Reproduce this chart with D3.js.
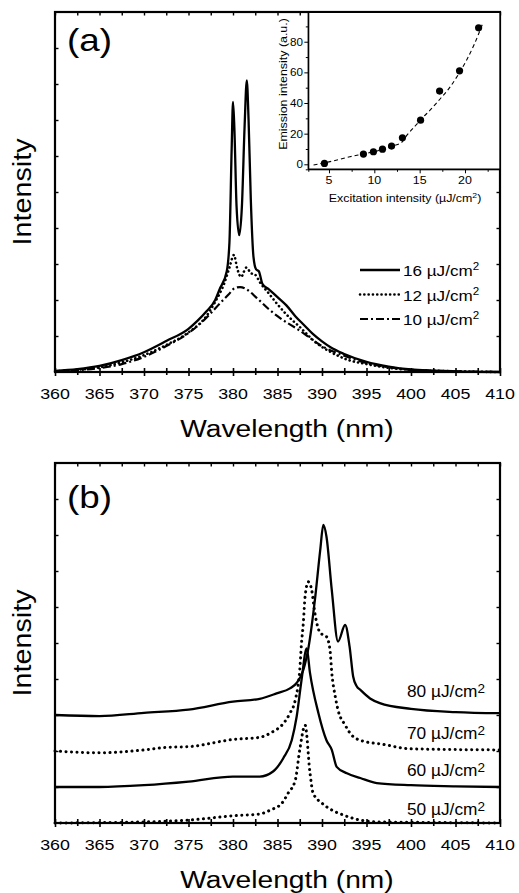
<!DOCTYPE html>
<html lang="en">
<head>
<meta charset="UTF-8" />
<title>Spectra</title>
<style>
  body { margin: 0; background: #fff; }
  svg text { font-family: "Liberation Sans", Arial, sans-serif; fill: #000; }
</style>
</head>
<body>
<div class="chart"></div>
<script src="https://d3js.org/d3.v7.min.js"></script>
<script>
// ---- panel (a): spectra at low excitation ----
const aWave16 = [360, 362.5, 365, 367.5, 370, 372.5, 375, 376, 377, 378, 378.5, 379.3, 379.6, 379.85, 380.0, 380.15, 380.4, 380.7, 381.0, 381.3, 381.55, 381.75, 382.0, 382.3, 382.6, 382.9, 383.3, 384, 385, 386, 387, 388, 389, 390, 391, 392.5, 395, 397.5, 400, 402.5, 405, 410];
const aInt16  = [0.03, 0.08, 0.17, 0.33, 0.55, 0.86, 1.2, 1.42, 1.68, 2.0, 2.3, 2.8, 3.6, 6.2, 7.5, 6.8, 4.6, 3.8, 4.6, 6.8, 8.1, 7.0, 4.8, 3.2, 2.85, 2.8, 2.45, 2.3, 2.08, 1.85, 1.55, 1.3, 1.05, 0.85, 0.68, 0.5, 0.28, 0.15, 0.07, 0.04, 0.02, 0.0];

const aWave12 = [360, 362.5, 365, 367.5, 370, 372.5, 375, 377, 378, 379, 379.6, 380.1, 380.5, 380.9, 381.5, 382, 382.5, 383, 384, 385, 386, 387.5, 389.4, 391, 393, 395, 397, 400, 405, 410];
const aInt12  = [0.02, 0.06, 0.13, 0.27, 0.47, 0.75, 1.1, 1.55, 1.95, 2.45, 2.9, 3.25, 2.85, 2.64, 2.9, 2.75, 2.7, 2.5, 2.19, 1.88, 1.6, 1.25, 0.8, 0.55, 0.33, 0.22, 0.13, 0.06, 0.02, 0.0];

const aWave10 = [360, 362.5, 365, 367.5, 370, 372.5, 375, 376.3, 377.5, 378.5, 379.5, 380.2, 380.8, 381.5, 382.7, 384, 385, 387.5, 390, 392.5, 395, 397.5, 400, 405, 410];
const aInt10  = [0.02, 0.05, 0.11, 0.22, 0.42, 0.72, 1.08, 1.34, 1.63, 1.9, 2.15, 2.33, 2.36, 2.3, 2.05, 1.75, 1.55, 1.15, 0.72, 0.45, 0.25, 0.13, 0.06, 0.02, 0.0];

const aLabels = ["16", "12", "10"];

// ---- inset: emission vs excitation ----
const insetExc  = [4.5, 8.8, 9.9, 10.9, 11.9, 13.1, 15.1, 17.2, 19.4, 21.5];
const insetEmis = [0.6, 6.7, 8.2, 9.9, 11.9, 17.3, 28.8, 47.8, 61.0, 89.1];
const fitExc  = [3.3, 5, 7.3, 9, 10.5, 12.1, 13.0, 13.6, 14.5, 15.5, 16.1, 17, 18.3, 19.2, 20.15, 21, 22];
const fitEmis = [-0.4, 1.6, 4.9, 7.0, 9.0, 12.1, 14.2, 19.0, 25.0, 31.5, 35.0, 41.0, 50.0, 58.0, 67.7, 78.0, 92.6];

// ---- panel (b): spectra at high excitation (offset by 1 unit each) ----
const bWave50 = [360, 365, 370, 375, 380, 383.0, 384.2, 385.5, 386.2, 387.0, 387.5, 388.1, 388.65, 389.0, 390.0, 391.1, 392.4, 394.3, 396.2, 400, 410];
const bInt50  = [0.0, 0.01, 0.03, 0.08, 0.2, 0.25, 0.36, 0.55, 0.83, 1.19, 2.03, 2.72, 1.39, 0.83, 0.55, 0.36, 0.22, 0.08, 0.03, 0.02, 0.0];

const bWave60 = [360, 365, 370, 375, 380, 383.0, 384.5, 385.65, 386.6, 387.15, 387.7, 388.28, 388.65, 389.6, 390.5, 391.1, 391.65, 392.8, 394.3, 396.15, 400, 405, 410];
const bInt60  = [1.0, 1.0, 1.05, 1.15, 1.29, 1.29, 1.43, 1.8, 2.3, 2.95, 3.97, 4.85, 4.17, 3.05, 2.3, 2.03, 1.56, 1.38, 1.25, 1.11, 1.05, 1.02, 1.0];

const bWave70 = [360, 365, 370, 372.5, 375, 380, 383, 384.5, 385.5, 386.4, 387.0, 387.5, 387.7, 387.9, 388.1, 388.46, 388.84, 389.2, 389.8, 390.5, 390.9, 391.1, 391.5, 391.8, 392.6, 393.5, 395.0, 396.5, 400, 410];
const bInt70  = [2.0, 1.95, 2.03, 2.1, 2.12, 2.32, 2.38, 2.54, 2.72, 3.05, 3.42, 4.25, 5.0, 5.55, 6.29, 6.7, 6.47, 5.83, 5.28, 5.18, 4.8, 4.17, 3.5, 3.14, 2.72, 2.4, 2.25, 2.2, 2.06, 2.03];

const bWave80 = [360, 365, 370, 375, 380, 383, 384.9, 386.4, 387.15, 387.9, 388.5, 389.2, 389.8, 390.15, 390.5, 391.1, 391.8, 392.6, 393.1, 393.5, 393.9, 394.3, 395.4, 396.5, 400, 405, 410];
const bInt80  = [3.0, 2.97, 3.06, 3.15, 3.37, 3.45, 3.6, 3.74, 3.89, 4.25, 4.9, 6.19, 7.58, 8.28, 7.96, 6.47, 5.04, 5.5, 4.9, 4.07, 3.8, 3.7, 3.46, 3.33, 3.17, 3.08, 3.05];

const bLabels = ["80", "70", "60", "50"];

const W = 519, H = 893;
const STRETCH = 1.15;   // the source lettering is wider than Arial

const svg = d3.select('.chart').append('svg')
  .attr('width', W).attr('height', H);

// text helper: horizontally stretched lettering
function label(g, x, y, str, size, anchor, rot, stretch) {
  const t = g.append('text')
    .attr('transform', `translate(${x},${y})${rot ? ' rotate(-90)' : ''} scale(${stretch || STRETCH},1)`)
    .attr('font-size', size)
    .attr('text-anchor', anchor || 'start')
    .text(str);
  return t;
}
function unitLabel(g, x, y, num, size) {
  const t = g.append('text')
    .attr('transform', `translate(${x},${y}) scale(${STRETCH * 0.96},1)`)
    .attr('font-size', size);
  t.append('tspan').text(num + ' \u00b5J/cm');
  t.append('tspan').attr('dy', -size * 0.38).attr('font-size', size * 0.68).text('2');
}

const dotted = { dash: '0.1 4.2', cap: 'round', width: 2.6 };
const solid  = { dash: null, cap: 'butt', width: 2.3 };
const dashDot = { dash: '8 3 2 3', cap: 'butt', width: 2.2 };

function framePanel(top, bottom) {
  const x = d3.scaleLinear().domain([360, 410]).range([55, 500]);
  const y = d3.scaleLinear().domain([0, 10]).range([bottom, top]);
  const g = svg.append('g');
  const major = d3.range(360, 411, 5);
  const minor = d3.range(362.5, 410, 5);
  const yt = d3.range(1, 10, 1);

  // bottom axis: ticks crossing the line
  const gb = g.append('g').attr('transform', `translate(0,${bottom})`);
  gb.call(d3.axisBottom(x).tickValues(major).tickSize(4).tickFormat(''));
  gb.append('g').call(d3.axisBottom(x).tickValues(minor).tickSize(3).tickFormat(''));
  gb.append('g').call(d3.axisBottom(x).tickValues(major.concat(minor)).tickSize(-4).tickFormat(''));
  gb.selectAll('.domain').remove();
  gb.selectAll('line').attr('stroke-width', 1.6);
  major.forEach(v => label(g, x(v), bottom + 27, String(v), 15.5, 'middle'));

  // top axis ticks inward
  const gt = g.append('g').attr('transform', `translate(0,${top})`);
  gt.call(d3.axisTop(x).tickValues(major.concat(minor)).tickSize(-3.5).tickFormat(''));
  gt.select('.domain').remove();
  gt.selectAll('line').attr('stroke-width', 1.4);

  // left / right ticks inward
  const gl = g.append('g').attr('transform', 'translate(55,0)');
  gl.call(d3.axisLeft(y).tickValues(yt).tickSize(-3.5).tickFormat(''));
  gl.select('.domain').remove();
  gl.selectAll('line').attr('stroke-width', 1.4);
  const gr = g.append('g').attr('transform', 'translate(500,0)');
  gr.call(d3.axisRight(y).tickValues(yt).tickSize(-3.5).tickFormat(''));
  gr.select('.domain').remove();
  gr.selectAll('line').attr('stroke-width', 1.4);

  g.append('rect')
    .attr('x', 55).attr('y', top).attr('width', 445).attr('height', bottom - top)
    .attr('fill', 'none').attr('stroke', '#000').attr('stroke-width', 2.2);

  label(g, 287, bottom + 65, 'Wavelength (nm)', 24.5, 'middle');
  label(g, 31, (top + bottom) / 2, 'Intensity', 25, 'middle', true);
  return { x, y, g };
}

function drawCurve(p, wave, vals, style) {
  const line = d3.line()
    .x((d, i) => p.x(wave[i]))
    .y(d => p.y(d))
    .curve(d3.curveMonotoneX);
  p.g.append('path')
    .datum(vals)
    .attr('d', line)
    .attr('fill', 'none')
    .attr('stroke', '#000')
    .attr('stroke-width', style.width)
    .attr('stroke-linecap', style.cap)
    .attr('stroke-linejoin', 'round')
    .attr('stroke-dasharray', style.dash);
}

// ---- panel (a) ----
const pa = framePanel(12, 372);
drawCurve(pa, aWave10, aInt10, dashDot);
drawCurve(pa, aWave12, aInt12, dotted);
drawCurve(pa, aWave16, aInt16, solid);
label(pa.g, 67, 51, '(a)', 32, 'start');

// legend (a)
const aStyles = [solid, dotted, dashDot];
aLabels.forEach((lab, i) => {
  const ly = 270 + i * 24.5;
  const st = aStyles[i];
  pa.g.append('line')
    .attr('x1', 360).attr('x2', 400).attr('y1', ly).attr('y2', ly)
    .attr('stroke', '#000').attr('stroke-width', st.width)
    .attr('stroke-linecap', st.cap).attr('stroke-dasharray', st.dash);
  unitLabel(pa.g, 403, ly + 6, lab, 15.5);
});

// ---- inset ----
const ix = d3.scaleLinear().domain([2.72, 23.86]).range([308.3, 500]);
const iy = d3.scaleLinear().domain([-3.26, 99.4]).range([169.3, 12]);
const gi = svg.append('g');
gi.append('rect').attr('x', 308.3).attr('y', 13).attr('width', 191).attr('height', 156)
  .attr('fill', '#fff');

const gix = gi.append('g').attr('transform', 'translate(0,169.3)');
gix.call(d3.axisBottom(ix).tickValues([5, 10, 15, 20]).tickSize(4).tickFormat(''));
gix.append('g').call(d3.axisBottom(ix).tickValues([7.5, 12.5, 17.5, 22.5]).tickSize(2.5).tickFormat(''));
gix.select('.domain').attr('stroke-width', 1.4).attr('d', 'M308.3,0H500');
[5, 10, 15, 20].forEach(v => label(gi, ix(v), 183.5, String(v), 10.8, 'middle'));

const giy = gi.append('g').attr('transform', 'translate(308.3,0)');
giy.call(d3.axisLeft(iy).tickValues([0, 20, 40, 60, 80]).tickSize(4).tickFormat(''));
giy.append('g').call(d3.axisLeft(iy).tickValues([10, 30, 50, 70, 90]).tickSize(2.5).tickFormat(''));
giy.select('.domain').attr('stroke-width', 1.4).attr('d', 'M0,169.3V12');
[0, 20, 40, 60, 80].forEach(v => label(gi, 303, iy(v) + 4, String(v), 10.8, 'end', false, 1.08));

const xl = label(gi, 405, 202, 'Excitation intensity (\u00b5J/cm', 10.8, 'middle');
xl.append('tspan').attr('dy', -4).attr('font-size', 7.5).text('2');
xl.append('tspan').attr('dy', 4).text(')');
label(gi, 286.5, 84, 'Emission intensity (a.u.)', 10.8, 'middle', true);

gi.append('path')
  .datum(fitEmis)
  .attr('d', d3.line().x((d, i) => ix(fitExc[i])).y(d => iy(d)).curve(d3.curveMonotoneX))
  .attr('fill', 'none').attr('stroke', '#000').attr('stroke-width', 1.1)
  .attr('stroke-dasharray', '4 3');
gi.selectAll('circle')
  .data(insetEmis)
  .join('circle')
  .attr('cx', (d, i) => ix(insetExc[i]))
  .attr('cy', d => iy(d))
  .attr('r', 3.6)
  .attr('fill', '#000');

// ---- panel (b) ----
const pb = framePanel(463, 823);
const bDotted = { dash: '0.1 5.4', cap: 'round', width: 3.0 };
drawCurve(pb, bWave50, bInt50, bDotted);
drawCurve(pb, bWave60, bInt60, solid);
drawCurve(pb, bWave70, bInt70, bDotted);
drawCurve(pb, bWave80, bInt80, solid);
label(pb.g, 67, 508, '(b)', 32, 'start');

const bBase = [697, 739, 776, 815];
bLabels.forEach((lab, i) => {
  const t = pb.g.append('text')
    .attr('transform', `translate(407,${bBase[i]}) scale(1.08,1)`)
    .attr('font-size', 16);
  t.append('tspan').text(lab + ' \u00b5J/cm');
  t.append('tspan').attr('dy', -4).attr('font-size', 12.5).text('2');
});
</script>
</body>
</html>
